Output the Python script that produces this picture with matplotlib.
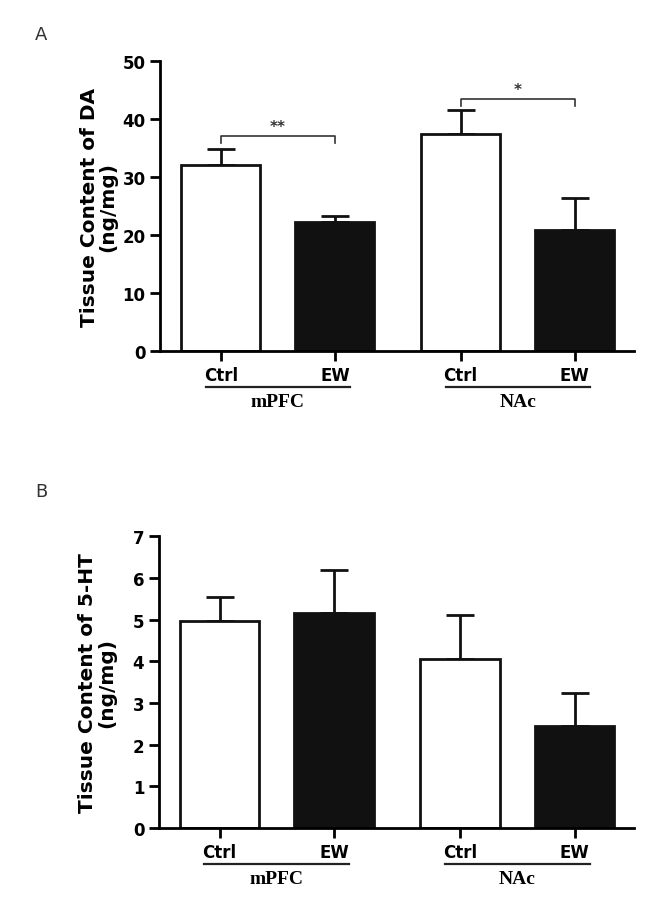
import numpy as np
import matplotlib.pyplot as plt
from matplotlib import font_manager
from matplotlib.transforms import blended_transform_factory

# data
regions = ['mPFC', 'NAc']
groups = ['Ctrl', 'EW']

da_mean = [32.0, 22.3, 37.4, 20.8]
da_err = [2.8, 1.0, 4.1, 5.5]
ht_mean = [4.97, 5.15, 4.06, 2.45]
ht_err = [0.58, 1.05, 1.04, 0.79]

# significance brackets for panel A: (bar i, bar j, height, label)
da_sig = [(0, 1, 37.1, '**'), (2, 3, 43.5, '*')]

# narrow sans for tick labels if one is around
installed = set(f.name for f in font_manager.fontManager.ttflist)
narrow = [n for n in ['Liberation Sans Narrow', 'DejaVu Sans Condensed'] if n in installed]
tick_font = narrow + ['DejaVu Sans']
label_font = ['DejaVu Sans']
serif_font = ['Liberation Serif', 'DejaVu Serif']

# bar centres: two per region, a little extra gap between regions
x = []
for r in range(len(regions)):
    for g in range(len(groups)):
        x.append(r * 2.06 + g * 0.98)
x = np.array(x)
colors = ['white', '#111111'] * len(regions)


def draw_panel(ax, means, errs, ymax, ystep, ylabel, sig=None):
    ax.bar(x, means, width=0.68, color=colors, edgecolor='#111111', linewidth=2.0, zorder=2)
    lower = np.zeros(len(errs))
    ax.errorbar(x, means, yerr=[lower, errs], fmt='none', ecolor='#111111',
                elinewidth=2.0, capsize=10, capthick=2.0, zorder=1)
    ax.set_xlim(-0.52, 3.55)
    ax.set_ylim(0, ymax)
    ax.set_yticks(np.arange(0, ymax + ystep / 2, ystep))
    ax.spines['top'].set_visible(False)
    ax.spines['right'].set_visible(False)
    ax.spines['left'].set_linewidth(2.0)
    ax.spines['bottom'].set_linewidth(2.0)
    ax.tick_params(axis='both', width=2.0, length=7, direction='out')
    ax.set_xticks(x)
    ax.set_xticklabels(groups * len(regions))
    for lab in ax.get_xticklabels() + ax.get_yticklabels():
        lab.set_family(tick_font)
        lab.set_fontweight('bold')
        lab.set_fontsize(12)
    ax.set_ylabel(ylabel, family=label_font, fontweight='bold', fontsize=14.5,
                  linespacing=1.0)
    ax.yaxis.set_label_coords(-0.09, 0.5)

    trans = blended_transform_factory(ax.transData, ax.transAxes)
    for r, name in enumerate(regions):
        x0 = x[r * 2] - 0.13
        x1 = x[r * 2 + 1] + 0.13
        ax.plot([x0, x1], [-0.125, -0.125], color='#222222', lw=1.6,
                transform=trans, clip_on=False)
        ax.text((x[r * 2] + x[r * 2 + 1]) / 2, -0.145, name, transform=trans,
                ha='center', va='top', family=serif_font, fontweight='bold', fontsize=14)

    if sig:
        for i, j, h, txt in sig:
            drop = ymax * 0.025
            ax.plot([x[i], x[i], x[j], x[j]], [h - drop, h, h, h - drop],
                    color='#333333', lw=1.2)
            ax.text((x[i] + x[j]) / 2, h + ymax * 0.005, txt, ha='center', va='bottom',
                    fontsize=11, fontweight='bold', color='#333333')


fig = plt.figure(figsize=(6.62, 9.12), dpi=100)
axA = fig.add_axes([0.242, 0.614, 0.716, 0.318])
axB = fig.add_axes([0.240, 0.091, 0.718, 0.320])

draw_panel(axA, da_mean, da_err, 50, 10, 'Tissue Content of DA\n(ng/mg)', da_sig)
draw_panel(axB, ht_mean, ht_err, 7, 1, 'Tissue Content of 5-HT\n(ng/mg)')

fig.text(0.053, 0.962, 'A', fontsize=13, color='#333333', va='center')
fig.text(0.053, 0.461, 'B', fontsize=13, color='#333333', va='center')

fig.savefig('out.png', dpi=100)
